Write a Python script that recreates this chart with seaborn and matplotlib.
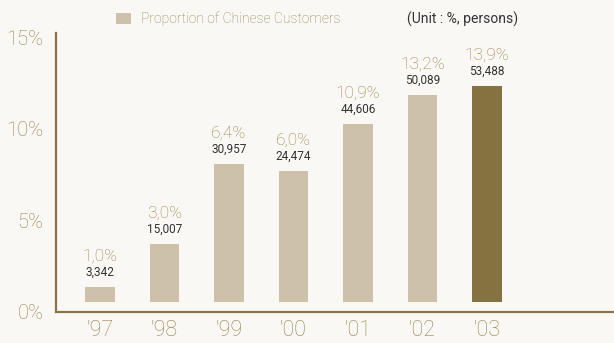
import matplotlib
matplotlib.use('Agg')
import matplotlib.pyplot as plt
import seaborn as sns
import pandas as pd
from matplotlib.patches import Patch

# data
years = ["'97", "'98", "'99", "'00", "'01", "'02", "'03"]
pct_labels = ['1,0%', '3,0%', '6,4%', '6,0%', '10,9%', '13,2%', '13,9%']
customers = [3342, 15007, 30957, 24474, 44606, 50089, 53488]
# bar tops as drawn, in axis units (%)
bar_tops = [1.36, 3.71, 8.07, 7.69, 10.25, 11.84, 12.33]
bar_base = 0.55  # bars float a little above the axis line

bg = '#faf8f4'
light = '#cdc1aa'
dark = '#857241'
gold = '#96824f'
axis_col = '#8a7645'

sns.set_theme(style='white')
plt.rcParams['font.family'] = ['Roboto', 'DejaVu Sans']
plt.rcParams['font.weight'] = 'light'

df = pd.DataFrame({'year': years, 'top': bar_tops})
df['height'] = df['top'] - bar_base
colors = [light] * (len(years) - 1) + [dark]

fig = plt.figure(figsize=(6.14, 3.43), dpi=100, facecolor=bg)
ax = fig.add_axes([0.0912, 0.0904, 0.9088, 0.8134])
ax.set_facecolor(bg)

sns.barplot(data=df, x='year', y='height', hue='year', palette=colors,
            legend=False, width=0.46, saturation=1, bottom=bar_base,
            edgecolor='none', linewidth=0, ax=ax)

for i, (p, n) in enumerate(zip(pct_labels, customers)):
    top = bar_tops[i]
    ax.annotate(f'{n:,}', (i, top), xytext=(0, 6), textcoords='offset points',
                ha='center', va='bottom', fontsize=8.5, color='#333333',
                fontweight='normal')
    ax.annotate(p, (i, top), xytext=(0, 17), textcoords='offset points',
                ha='center', va='bottom', fontsize=12.5, color=gold)

ax.set_xlim(-0.68, 7.97)
ax.set_ylim(0, 15.22)
ax.set_yticks([0, 5, 10, 15])
ax.set_yticklabels(['0%', '5%', '10%', '15%'])
ax.tick_params(axis='y', labelsize=14.5, labelcolor=gold, length=0, pad=9)
ax.tick_params(axis='x', labelsize=15.5, labelcolor=gold, length=0, pad=6)
ax.set_xlabel('')
ax.set_ylabel('')

for s in ['top', 'right']:
    ax.spines[s].set_visible(False)
for s in ['left', 'bottom']:
    ax.spines[s].set_color(axis_col)
    ax.spines[s].set_linewidth(1.6)

handle = Patch(facecolor=light, edgecolor='none')
fig.legend([handle], ['Proportion of Chinese Customers'], loc='center left',
           bbox_to_anchor=(0.168, 0.945), frameon=False, fontsize=10,
           labelcolor=gold, handlelength=1.1, handleheight=0.9, handletextpad=0.7)
fig.text(0.753, 0.945, '(Unit : %, persons)', ha='center', va='center',
         fontsize=10, color='#333333', fontweight='normal')

plt.savefig('out.png', dpi=100, facecolor=bg)
